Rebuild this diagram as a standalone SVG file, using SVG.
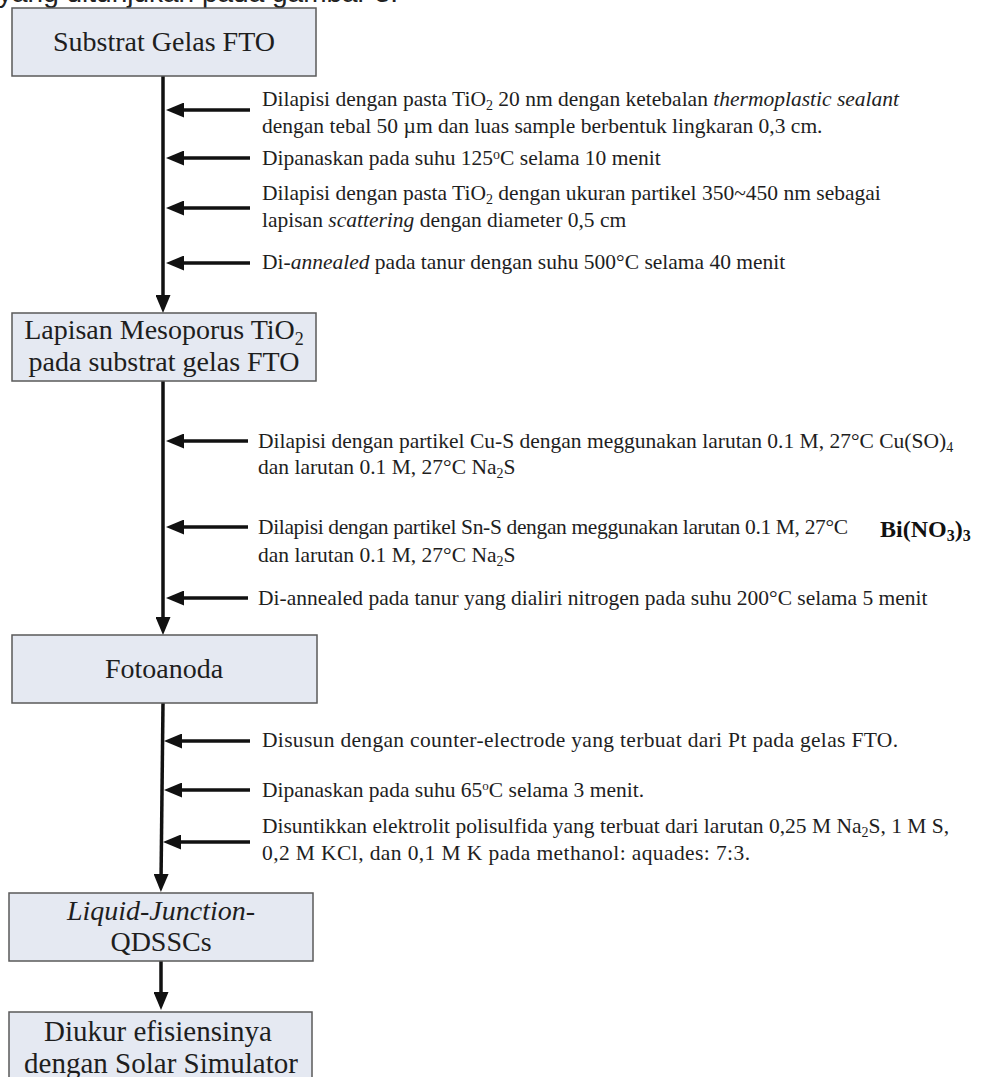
<svg xmlns="http://www.w3.org/2000/svg" width="981" height="1077" viewBox="0 0 981 1077">
<defs>
<style>
.box{fill:#e5e9f2;stroke:#5a5a5a;stroke-width:1.5}
.bt{font-family:"Liberation Serif","Times New Roman",serif;fill:#1e1e1e;text-anchor:middle}
.st{font-family:"Liberation Serif","Times New Roman",serif;font-size:21.5px;fill:#1e1e1e}
.ln{stroke:#111;stroke-width:3.5;fill:none}
</style>
<marker id="ah" markerUnits="userSpaceOnUse" markerWidth="18" markerHeight="15" refX="8" refY="7.5" orient="auto">
<path d="M0,0 L18,7.5 L0,15 z" fill="#111"/>
</marker>
</defs>
<rect width="981" height="1077" fill="#ffffff"/>
<text x="-2" y="2" font-family="Liberation Sans, Arial, sans-serif" font-size="28" fill="#222">yang ditunjukan pada gambar 3.</text>

<g id="connectors">
<line class="ln" x1="163" y1="76" x2="163" y2="303" marker-end="url(#ah)"/>
<line class="ln" x1="250" y1="110" x2="176" y2="110" marker-end="url(#ah)"/>
<line class="ln" x1="250" y1="158" x2="176" y2="158" marker-end="url(#ah)"/>
<line class="ln" x1="250" y1="208" x2="176" y2="208" marker-end="url(#ah)"/>
<line class="ln" x1="250" y1="263" x2="176" y2="263" marker-end="url(#ah)"/>

<line class="ln" x1="163" y1="381" x2="163" y2="625" marker-end="url(#ah)"/>
<line class="ln" x1="248" y1="441" x2="176" y2="441" marker-end="url(#ah)"/>
<line class="ln" x1="248" y1="527" x2="176" y2="527" marker-end="url(#ah)"/>
<line class="ln" x1="248" y1="598" x2="176" y2="598" marker-end="url(#ah)"/>

<line class="ln" x1="163" y1="703" x2="161" y2="882" marker-end="url(#ah)"/>
<line class="ln" x1="250" y1="741" x2="174" y2="741" marker-end="url(#ah)"/>
<line class="ln" x1="250" y1="790" x2="174" y2="790" marker-end="url(#ah)"/>
<line class="ln" x1="250" y1="842" x2="173" y2="842" marker-end="url(#ah)"/>

<line class="ln" x1="161" y1="961" x2="161" y2="1000" marker-end="url(#ah)"/>
</g>

<g id="node-substrat">
<rect class="box" x="12" y="8" width="304" height="68"/>
<text class="bt" x="164" y="51" font-size="28">Substrat Gelas FTO</text>
</g>

<g id="node-mesoporus">
<rect class="box" x="12" y="313" width="304" height="68"/>
<text class="bt" font-size="28"><tspan x="164" y="339">Lapisan Mesoporus TiO<tspan dy="6" font-size="18">2</tspan></tspan><tspan x="164" y="371">pada substrat gelas FTO</tspan></text>
</g>

<g id="node-fotoanoda">
<rect class="box" x="12" y="635" width="305" height="68"/>
<text class="bt" x="164" y="678" font-size="28">Fotoanoda</text>
</g>

<g id="node-qdsscs">
<rect class="box" x="9" y="893" width="304" height="68"/>
<text class="bt" font-size="28"><tspan x="161" y="920" font-style="italic">Liquid-Junction-</tspan><tspan x="161" y="951">QDSSCs</tspan></text>
</g>

<g id="node-diukur">
<rect class="box" x="9" y="1012" width="303" height="80"/>
<text class="bt" font-size="29"><tspan x="158" y="1041">Diukur efisiensinya</tspan><tspan x="161" y="1073">dengan Solar Simulator</tspan></text>
</g>

<g id="steps-1">
<text class="st" x="262" y="106">Dilapisi dengan pasta TiO<tspan dy="4" font-size="14">2</tspan><tspan dy="-4"> 20 nm dengan ketebalan </tspan><tspan font-style="italic">thermoplastic sealant</tspan></text>
<text class="st" x="262" y="133">dengan tebal 50 µm dan luas sample berbentuk lingkaran 0,3 cm.</text>
<text class="st" x="262" y="165">Dipanaskan pada suhu 125<tspan dy="-6" font-size="14">o</tspan><tspan dy="6">C selama 10 menit</tspan></text>
<text class="st" x="262" y="200">Dilapisi dengan pasta TiO<tspan dy="4" font-size="14">2</tspan><tspan dy="-4"> dengan ukuran partikel 350~450 nm sebagai</tspan></text>
<text class="st" x="262" y="227">lapisan <tspan font-style="italic">scattering</tspan> dengan diameter 0,5 cm</text>
<text class="st" x="262" y="269">Di-<tspan font-style="italic">annealed</tspan> pada tanur dengan suhu 500°C selama 40 menit</text>
</g>

<g id="steps-2">
<text class="st" x="258" y="448">Dilapisi dengan partikel Cu-S dengan meggunakan larutan 0.1 M, 27°C Cu(SO)<tspan dy="4" font-size="14">4</tspan></text>
<text class="st" x="258" y="474">dan larutan 0.1 M, 27°C Na<tspan dy="4" font-size="14">2</tspan><tspan dy="-4">S</tspan></text>
<text class="st" x="258" y="534" textLength="590" lengthAdjust="spacing">Dilapisi dengan partikel Sn-S dengan meggunakan larutan 0.1 M, 27°C</text>
<text x="880" y="537" font-family="Liberation Serif, Times New Roman, serif" font-size="24" font-weight="bold" fill="#111">Bi(NO<tspan dy="4" font-size="16">3</tspan><tspan dy="-4">)</tspan><tspan dy="4" font-size="16">3</tspan></text>
<text class="st" x="258" y="562">dan larutan 0.1 M, 27°C Na<tspan dy="4" font-size="14">2</tspan><tspan dy="-4">S</tspan></text>
<text class="st" x="258" y="605">Di-annealed pada tanur yang dialiri nitrogen pada suhu 200°C selama 5 menit</text>
</g>

<g id="steps-3">
<text class="st" x="262" y="747" textLength="636" lengthAdjust="spacing">Disusun dengan counter-electrode yang terbuat dari Pt pada gelas FTO.</text>
<text class="st" x="262" y="797">Dipanaskan pada suhu 65<tspan dy="-7" font-size="13">o</tspan><tspan dy="7">C selama 3 menit.</tspan></text>
<text class="st" x="262" y="833">Disuntikkan elektrolit polisulfida yang terbuat dari larutan 0,25 M Na<tspan dy="4" font-size="14">2</tspan><tspan dy="-4">S, 1 M S,</tspan></text>
<text class="st" x="262" y="860" textLength="488" lengthAdjust="spacing">0,2 M KCl, dan 0,1 M K pada methanol: aquades: 7:3.</text>
</g>
</svg>
